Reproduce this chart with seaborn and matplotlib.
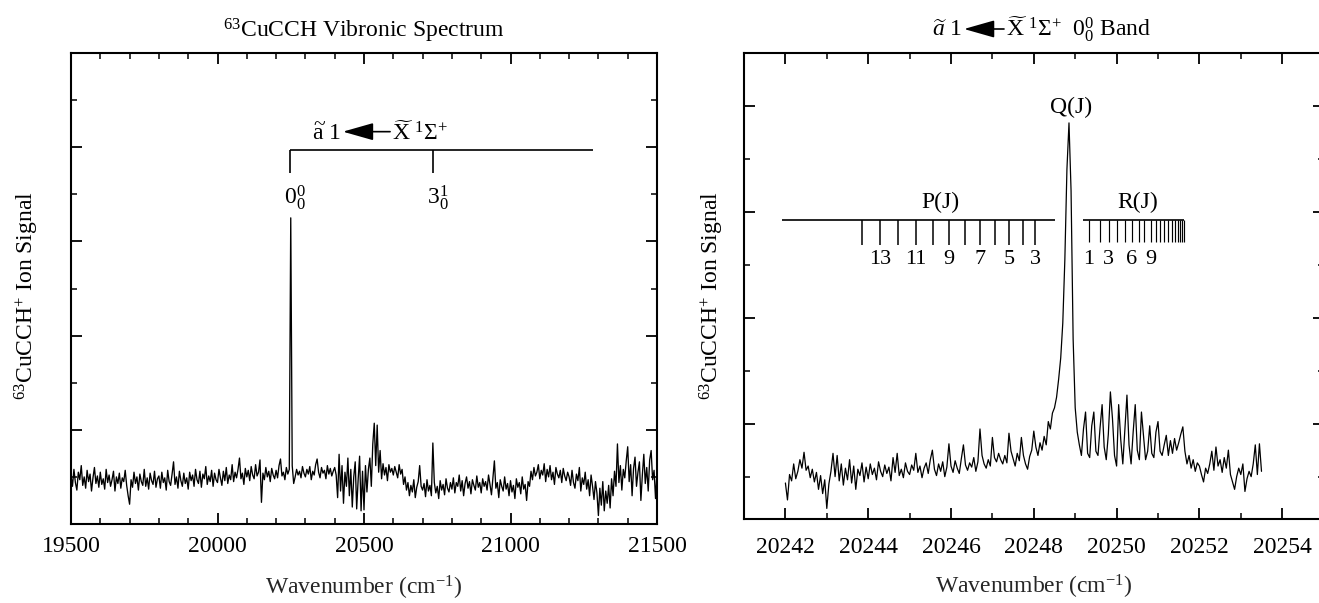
import numpy as np
import pandas as pd
import matplotlib
matplotlib.use("Agg")
import matplotlib.pyplot as plt
from matplotlib.ticker import MultipleLocator
import seaborn as sns

# ---------------------------------------------------------------------------
# Survey scan of the 63CuCCH+ ion signal, 19500-21500 cm-1, 5 cm-1 steps
# ---------------------------------------------------------------------------
survey_start = 19500
survey_step = 5
survey_signal = [
    0.52, 0.40, 0.58, 0.44, 0.36, 0.55, 0.47, 0.62, 0.41, 0.50, 0.38, 0.57, 0.45, 0.53, 0.35, 0.49, 0.60, 0.43, 0.51, 0.39,  # 19500
    0.55, 0.42, 0.48, 0.37, 0.58, 0.44, 0.52, 0.40, 0.47, 0.56, 0.35, 0.50, 0.43, 0.54, 0.38, 0.49, 0.45, 0.57, 0.41, 0.30,  # 19600
    0.21, 0.47, 0.39, 0.55, 0.43, 0.50, 0.36, 0.53, 0.45, 0.41, 0.58, 0.40, 0.49, 0.37, 0.54, 0.46, 0.42, 0.56, 0.39, 0.48,  # 19700
    0.51, 0.38, 0.55, 0.44, 0.49, 0.36, 0.57, 0.45, 0.41, 0.53, 0.66, 0.42, 0.50, 0.38, 0.56, 0.46, 0.40, 0.54, 0.43, 0.49,  # 19800
    0.37, 0.55, 0.46, 0.52, 0.40, 0.58, 0.47, 0.43, 0.56, 0.39, 0.53, 0.48, 0.61, 0.42, 0.51, 0.45, 0.57, 0.40, 0.54, 0.47,  # 19900
    0.44, 0.58, 0.49, 0.41, 0.56, 0.46, 0.60, 0.43, 0.52, 0.47, 0.63, 0.45, 0.55, 0.49, 0.58, 0.70, 0.48, 0.54, 0.42, 0.59,  # 20000
    0.50, 0.57, 0.46, 0.61, 0.52, 0.48, 0.63, 0.51, 0.55, 0.68, 0.23, 0.54, 0.47, 0.60, 0.50, 0.56, 0.45, 0.59, 0.52, 0.48,  # 20100
    0.57, 0.49, 0.62, 0.69, 0.51, 0.55, 0.47, 0.60, 0.53, 0.58, 3.25, 0.62, 0.43, 0.50, 0.58, 0.52, 0.56, 0.49, 0.61, 0.54,  # 20200
    0.50, 0.58, 0.53, 0.61, 0.47, 0.56, 0.52, 0.63, 0.69, 0.55, 0.49, 0.60, 0.54, 0.57, 0.48, 0.62, 0.53, 0.59, 0.51, 0.56,  # 20300
    0.60, 0.52, 0.28, 0.74, 0.35, 0.62, 0.22, 0.55, 0.40, 0.70, 0.30, 0.58, 0.18, 0.50, 0.66, 0.16, 0.47, 0.72, 0.14, 0.56,  # 20400
    0.15, 0.62, 0.34, 0.58, 0.70, 0.40, 0.85, 1.07, 0.62, 1.05, 0.55, 0.78, 0.48, 0.64, 0.52, 0.60, 0.46, 0.63, 0.55, 0.59,  # 20500
    0.52, 0.61, 0.55, 0.49, 0.63, 0.53, 0.58, 0.42, 0.50, 0.36, 0.44, 0.30, 0.41, 0.34, 0.47, 0.28, 0.39, 0.45, 0.62, 0.40,  # 20600
    0.36, 0.43, 0.29, 0.47, 0.35, 0.41, 0.30, 0.86, 0.44, 0.33, 0.40, 0.27, 0.46, 0.36, 0.42, 0.31, 0.48, 0.38, 0.34, 0.44,  # 20700
    0.37, 0.49, 0.33, 0.44, 0.40, 0.52, 0.35, 0.46, 0.30, 0.43, 0.50, 0.38, 0.45, 0.32, 0.47, 0.41, 0.36, 0.51, 0.39, 0.44,  # 20800
    0.33, 0.48, 0.40, 0.45, 0.36, 0.52, 0.42, 0.31, 0.49, 0.67, 0.38, 0.44, 0.28, 0.47, 0.40, 0.35, 0.50, 0.37, 0.43, 0.30,  # 20900
    0.46, 0.34, 0.41, 0.27, 0.48, 0.39, 0.44, 0.32, 0.50, 0.37, 0.42, 0.25, 0.45, 0.40, 0.56, 0.47, 0.60, 0.51, 0.55, 0.63,  # 21000
    0.48, 0.57, 0.52, 0.64, 0.45, 0.58, 0.50, 0.62, 0.47, 0.55, 0.42, 0.60, 0.53, 0.49, 0.57, 0.44, 0.59, 0.51, 0.46, 0.55,  # 21100
    0.50, 0.41, 0.57, 0.44, 0.38, 0.53, 0.46, 0.60, 0.35, 0.49, 0.42, 0.55, 0.37, 0.47, 0.30, 0.52, 0.40, 0.26, 0.45, 0.33,  # 21200
    0.09, 0.38, 0.20, 0.45, 0.14, 0.35, 0.22, 0.41, 0.17, 0.48, 0.30, 0.56, 0.40, 0.85, 0.44, 0.62, 0.36, 0.58, 0.49, 0.67,  # 21300
    0.82, 0.45, 0.63, 0.30, 0.59, 0.71, 0.40, 0.55, 0.66, 0.25, 0.52, 0.74, 0.43, 0.60, 0.35, 0.68, 0.78, 0.47, 0.57, 0.27,  # 21400
    0.55,                                                                                                                    # 21500
]

# ---------------------------------------------------------------------------
# Rotationally resolved 0-0 band, 20242.00-20253.50 cm-1, 0.05 cm-1 steps
# ---------------------------------------------------------------------------
band_start = 20242.0
band_step = 0.05
band_signal = [
    0.44, 0.28, 0.52, 0.46, 0.62, 0.48, 0.55, 0.66, 0.58, 0.73, 0.56, 0.60, 0.49, 0.57, 0.45, 0.54, 0.38, 0.51, 0.34, 0.47,  # 20242
    0.20, 0.43, 0.55, 0.72, 0.50, 0.70, 0.46, 0.62, 0.42, 0.58, 0.47, 0.66, 0.44, 0.60, 0.38, 0.57, 0.51, 0.63, 0.45, 0.59,  # 20243
    0.48, 0.62, 0.52, 0.58, 0.47, 0.64, 0.55, 0.50, 0.61, 0.53, 0.59, 0.46, 0.68, 0.54, 0.72, 0.51, 0.57, 0.49, 0.63, 0.55,  # 20244
    0.52, 0.61, 0.56, 0.72, 0.54, 0.60, 0.49, 0.58, 0.63, 0.53, 0.66, 0.75, 0.57, 0.51, 0.62, 0.55, 0.64, 0.50, 0.59, 0.81,  # 20245
    0.60, 0.54, 0.65, 0.58, 0.53, 0.67, 0.80, 0.61, 0.56, 0.63, 0.59, 0.68, 0.55, 0.64, 0.95, 0.70, 0.62, 0.58, 0.66, 0.60,  # 20246
    0.87, 0.68, 0.64, 0.72, 0.66, 0.62, 0.70, 0.63, 0.91, 0.74, 0.67, 0.60, 0.72, 0.65, 0.87, 0.70, 0.62, 0.57, 0.69, 0.75,  # 20247
    0.93, 0.78, 0.70, 0.82, 0.75, 0.88, 0.80, 1.02, 0.95, 1.10, 1.15, 1.25, 1.42, 1.62, 1.95, 2.55, 3.40, 3.84, 3.20, 1.80,  # 20248
    1.15, 0.92, 0.80, 0.70, 0.95, 1.11, 0.72, 0.68, 0.98, 1.11, 0.74, 0.70, 0.96, 1.18, 0.78, 0.66, 0.90, 1.30, 1.05, 0.70,  # 20249
    0.60, 1.18, 0.85, 0.62, 0.95, 1.27, 0.80, 0.62, 0.92, 1.18, 0.75, 0.66, 1.11, 0.88, 0.66, 0.74, 0.98, 0.72, 0.68, 0.92,  # 20250
    1.02, 0.74, 0.70, 0.80, 0.89, 0.70, 0.84, 0.72, 0.86, 0.75, 0.82, 0.90, 0.97, 0.74, 0.62, 0.70, 0.58, 0.66, 0.55, 0.63,  # 20251
    0.60, 0.52, 0.45, 0.58, 0.53, 0.62, 0.74, 0.56, 0.78, 0.60, 0.66, 0.54, 0.68, 0.58, 0.75, 0.52, 0.45, 0.38, 0.50, 0.58,  # 20252
    0.52, 0.62, 0.36, 0.48, 0.55, 0.50, 0.62, 0.80, 0.52, 0.81, 0.55,                                                        # 20253
]

# Vibronic assignments in the survey scan
vib_labels = [r"$0^{0}_{0}$", r"$3^{1}_{0}$"]
vib_pos = [20249, 20735]
progression_end = 21280

# Rotational assignments of the 0-0 band
q_pos = 20248.9
p_J = [14, 13, 12, 11, 10, 9, 8, 7, 6, 5, 4, 3]
p_pos = [20243.85, 20244.28, 20244.72, 20245.16, 20245.57, 20245.95,
         20246.35, 20246.71, 20247.06, 20247.40, 20247.73, 20248.04]
p_labelled = [13, 11, 9, 7, 5, 3]
p_line = (20241.92, 20248.52)
r_J = list(range(1, 20))
r_pos = [20249.33, 20249.61, 20249.81, 20250.01, 20250.21, 20250.37, 20250.53,
         20250.67, 20250.82, 20250.94, 20251.04, 20251.15, 20251.25, 20251.34,
         20251.42, 20251.48, 20251.54, 20251.59, 20251.62]
r_labelled = [1, 3, 6, 9]
r_line = (20249.20, 20251.64)

survey_df = pd.DataFrame({
    "wavenumber": survey_start + survey_step * np.arange(len(survey_signal)),
    "signal": survey_signal,
})
band_df = pd.DataFrame({
    "wavenumber": band_start + band_step * np.arange(len(band_signal)),
    "signal": band_signal,
})

# ---------------------------------------------------------------------------
# Style
# ---------------------------------------------------------------------------
sns.set_style("ticks")
plt.rcParams["font.family"] = ["Liberation Serif", "DejaVu Serif"]
plt.rcParams["mathtext.fontset"] = "custom"
plt.rcParams["mathtext.rm"] = "Liberation Serif"
plt.rcParams["mathtext.it"] = "Liberation Serif:italic"
plt.rcParams["mathtext.bf"] = "Liberation Serif:bold"
plt.rcParams["text.color"] = "black"
plt.rcParams["axes.edgecolor"] = "black"
plt.rcParams["xtick.color"] = "black"
plt.rcParams["ytick.color"] = "black"

FS = 17
W, H = 1319, 603
fig = plt.figure(figsize=(W / 100, H / 100), dpi=100)
fig.patch.set_facecolor("white")


def frame(left, top, right, bottom):
    return [left / W, 1 - bottom / H, (right - left) / W, (bottom - top) / H]


def fig_xy(x, y):
    return (x / W, 1 - y / H)


ax1 = fig.add_axes(frame(71, 53, 657, 524))
ax2 = fig.add_axes(frame(744, 53, 1323.6, 519))

for ax in (ax1, ax2):
    for sp in ax.spines.values():
        sp.set_linewidth(1.5)
    ax.tick_params(axis="both", which="both", direction="in",
                   top=True, right=True, labelleft=False)
    ax.tick_params(which="major", length=8, width=1.3)
    ax.tick_params(which="minor", length=4.5, width=1.1)
    ax.tick_params(axis="x", labelsize=FS)

ylabel = r"$^{63}$CuCCH$^{+}$ Ion Signal"
xlabel = r"Wavenumber (cm$^{-1}$)"

# ---------------------------------------------------------------------------
# Left: survey spectrum
# ---------------------------------------------------------------------------
sns.lineplot(data=survey_df, x="wavenumber", y="signal", ax=ax1,
             color="black", linewidth=0.95, estimator=None, sort=False)
ax1.set_xlim(19500, 21500)
ax1.set_ylim(0, 5)
ax1.xaxis.set_major_locator(MultipleLocator(500))
ax1.xaxis.set_minor_locator(MultipleLocator(100))
ax1.yaxis.set_major_locator(MultipleLocator(1))
ax1.yaxis.set_minor_locator(MultipleLocator(0.5))
ax1.tick_params(axis="x", pad=9)
ax1.set_xlabel(xlabel, fontsize=FS)
ax1.set_ylabel("")
ax1.xaxis.set_label_coords(0.5, -0.105)
ax1.set_title(r"$^{63}$CuCCH Vibronic Spectrum", fontsize=FS, pad=11)
fig.text(*fig_xy(27, 296), ylabel, rotation=90, ha="center", va="center", fontsize=FS)

prog_y, prog_tick = 3.97, 3.73
ax1.hlines(prog_y, vib_pos[0], progression_end, color="black", lw=1.2)
ax1.vlines(vib_pos, prog_tick, prog_y, color="black", lw=1.2)
for lab, pos in zip(vib_labels, vib_pos):
    ax1.annotate(lab, xy=(pos, 3.47), xytext=(-4.5, 0), textcoords="offset points",
                 ha="left", va="center", fontsize=FS)

ax1.text(20421, 4.08, r"$\widetilde{\mathrm{a}}$ 1", ha="right", va="baseline", fontsize=FS)
ax1.annotate("", xy=(20428, 4.165), xytext=(20589, 4.165),
             arrowprops=dict(arrowstyle="-|>,head_length=0.95,head_width=0.27",
                             color="black", lw=1.2, shrinkA=0, shrinkB=0,
                             mutation_scale=20))
ax1.text(20596, 4.08, r"$\widetilde{\mathrm{X}}\ {}^{1}\Sigma^{+}$",
         ha="left", va="baseline", fontsize=FS)

# ---------------------------------------------------------------------------
# Right: rotational structure of the 0-0 band
# ---------------------------------------------------------------------------
sns.lineplot(data=band_df, x="wavenumber", y="signal", ax=ax2,
             color="black", linewidth=0.9, estimator=None, sort=False)
ax2.set_xlim(20241, 20255)
ax2.set_ylim(0.1, 4.5)
ax2.xaxis.set_major_locator(MultipleLocator(2))
ax2.xaxis.set_minor_locator(MultipleLocator(1))
ax2.yaxis.set_major_locator(MultipleLocator(1))
ax2.yaxis.set_minor_locator(MultipleLocator(0.5))
ax2.tick_params(axis="x", pad=13)
ax2.set_xlabel(xlabel, fontsize=FS)
ax2.set_ylabel("")
ax2.xaxis.set_label_coords(0.5, -0.115)
fig.text(*fig_xy(712, 296), ylabel, rotation=90, ha="center", va="center", fontsize=FS)

branch_y = 2.92
ax2.hlines(branch_y, *p_line, color="black", lw=1.2)
ax2.vlines(p_pos, 2.685, branch_y, color="black", lw=1.1)
ax2.hlines(branch_y, *r_line, color="black", lw=1.2)
ax2.vlines(r_pos, 2.72, branch_y, color="black", lw=0.85)
for j, pos in zip(p_J, p_pos):
    if j in p_labelled:
        ax2.text(pos, 2.55, str(j), ha="center", va="center", fontsize=16)
for j, pos in zip(r_J, r_pos):
    if j in r_labelled:
        ax2.text(pos, 2.55, str(j), ha="center", va="center", fontsize=16)
ax2.text(np.mean([p_pos[0], p_pos[-1]]) - 0.2, 3.09, "P(J)", ha="center", va="center", fontsize=FS)
ax2.text(20250.5, 3.09, "R(J)", ha="center", va="center", fontsize=FS)
ax2.text(q_pos, 3.99, "Q(J)", ha="center", va="center", fontsize=FS)

# Title of the right panel, assembled around a filled arrow
fig.text(*fig_xy(962, 36), r"$\widetilde{a}$ 1", ha="right", va="baseline", fontsize=FS)
fig.text(*fig_xy(1006, 36), r"$\widetilde{\mathrm{X}}\ {}^{1}\Sigma^{+}\ \ 0^{0}_{0}$ Band",
         ha="left", va="baseline", fontsize=FS)
ax2.annotate("", xy=fig_xy(964, 29), xycoords="figure fraction",
             xytext=fig_xy(1004, 29), textcoords="figure fraction",
             arrowprops=dict(arrowstyle="-|>,head_length=0.95,head_width=0.27",
                             color="black", lw=1.2, shrinkA=0, shrinkB=0,
                             mutation_scale=20))

fig.savefig("out.png", dpi=100, facecolor="white")
